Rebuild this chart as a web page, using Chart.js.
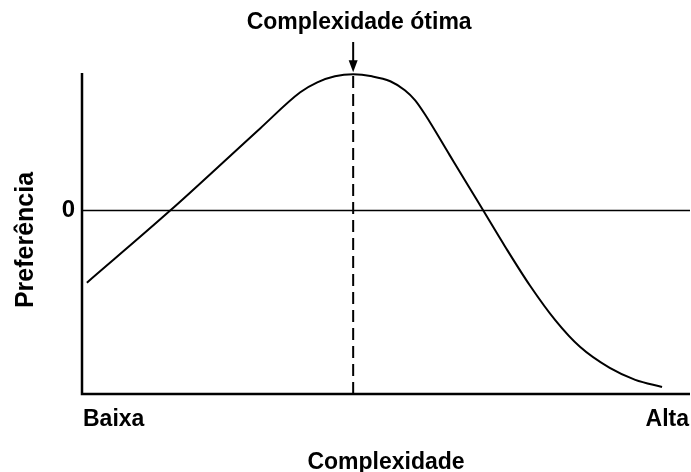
<!DOCTYPE html>
<html>
<head>
<meta charset="utf-8">
<script src="https://cdn.jsdelivr.net/npm/chart.js@4/dist/chart.umd.min.js"></script>
<style>
  html, body { margin: 0; padding: 0; background: #fff; }
  #wrap { width: 691px; height: 472px; }
</style>
</head>
<body>
<div id="wrap"><canvas id="prefChart" width="691" height="472"></canvas></div>
<script>
// curva de preferência (unidades arbitrárias: x 0..100, y -100..75)
const complexidade = [0.8, 14.5, 29.3, 35.9, 38.7, 41.6, 44.6, 47.7, 50.7, 53.1, 54.8, 56.4, 60.5, 63.5, 66.0, 69.6, 73.7, 77.8, 81.9, 86.8, 91.0, 95.4];
const preferencia = [-39.3, 0, 44.8, 64.5, 69.9, 73.2, 74.3, 73.2, 70.5, 65.6, 60.1, 52.5, 30.1, 13.7, 0, -19.7, -41.0, -59.6, -74.3, -85.8, -92.3, -96.2];
const otimoX = 44.6;
const otimoY = 74.3;
const eixoX = [0, 100];
const eixoY = [-100, 75];

const fonte = '"Liberation Sans", Arial, sans-serif';

const curva = complexidade.map((x, i) => ({ x: x, y: preferencia[i] }));

const extras = {
  id: "extras",
  beforeDatasetsDraw(chart) {
    const { ctx, chartArea, scales } = chart;
    const y0 = scales.y.getPixelForValue(0);
    ctx.save();
    ctx.strokeStyle = "#000";
    // linha do zero
    ctx.lineWidth = 1.5;
    ctx.beginPath();
    ctx.moveTo(chartArea.left, y0);
    ctx.lineTo(chartArea.right, y0);
    ctx.stroke();
    // eixos
    ctx.lineWidth = 2.5;
    ctx.beginPath();
    ctx.moveTo(chartArea.left, chartArea.top);
    ctx.lineTo(chartArea.left, chartArea.bottom);
    ctx.lineTo(chartArea.right, chartArea.bottom);
    ctx.stroke();
    ctx.restore();
  },
  afterDraw(chart) {
    const { ctx, chartArea, scales } = chart;
    const px = scales.x.getPixelForValue(otimoX);
    const py = scales.y.getPixelForValue(otimoY);
    ctx.save();
    ctx.fillStyle = "#000";
    ctx.strokeStyle = "#000";

    // seta
    ctx.lineWidth = 2;
    ctx.beginPath();
    ctx.moveTo(px, 42);
    ctx.lineTo(px, py - 12);
    ctx.stroke();
    ctx.beginPath();
    ctx.moveTo(px - 4.5, py - 14);
    ctx.lineTo(px + 4.5, py - 14);
    ctx.lineTo(px, py - 2);
    ctx.closePath();
    ctx.fill();

    ctx.font = "bold 23px " + fonte;
    ctx.textBaseline = "alphabetic";
    ctx.textAlign = "center";
    ctx.fillText("Complexidade ótima", px + 6, 29);
    ctx.fillText("Complexidade", (chartArea.left + chartArea.right) / 2, 469);

    ctx.textAlign = "left";
    ctx.fillText("Baixa", chartArea.left + 1, 426);
    ctx.textAlign = "right";
    ctx.fillText("Alta", chartArea.right - 1, 426);

    ctx.font = "bold 24px " + fonte;
    ctx.textBaseline = "middle";
    ctx.fillText("0", 75, scales.y.getPixelForValue(0));

    ctx.font = "bold 25px " + fonte;
    ctx.translate(33, 240);
    ctx.rotate(-Math.PI / 2);
    ctx.textAlign = "center";
    ctx.textBaseline = "alphabetic";
    ctx.fillText("Preferência", 0, 0);
    ctx.restore();
  },
};

new Chart(document.getElementById("prefChart"), {
  type: "line",

  data: {
    datasets: [
      {
        data: curva,
        borderColor: "#000",
        borderWidth: 2,
        pointRadius: 0,
        cubicInterpolationMode: "monotone",
        fill: false,
      },
      {
        data: [
          { x: otimoX, y: eixoY[0] },
          { x: otimoX, y: otimoY },
        ],
        borderColor: "#000",
        borderWidth: 2,
        borderDash: [12, 6],
        pointRadius: 0,
        fill: false,
      },
    ],
  },

  options: {
    responsive: false,
    animation: false,
    devicePixelRatio: 1,

    layout: {
      padding: { left: 82, right: 1, top: 73, bottom: 78 },
    },

    plugins: {
      legend: { display: false },
      tooltip: { enabled: false },
    },

    scales: {
      x: { type: "linear", min: eixoX[0], max: eixoX[1], display: false },
      y: { min: eixoY[0], max: eixoY[1], display: false },
    },
  },

  plugins: [extras],
});
</script>
</body>
</html>
